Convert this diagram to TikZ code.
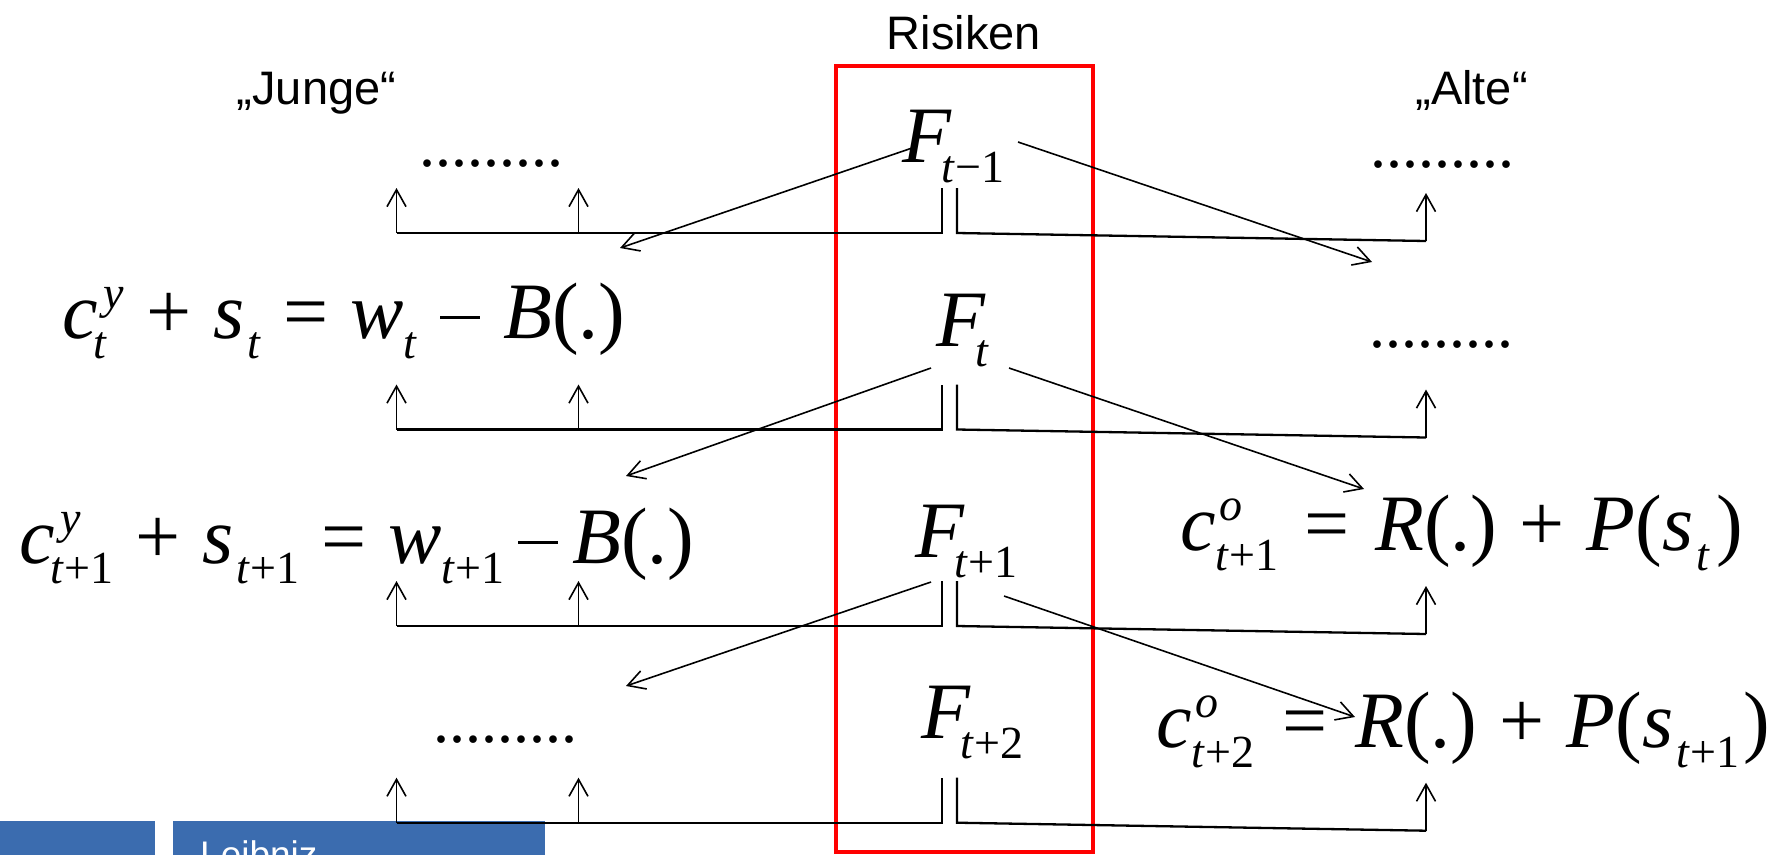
\documentclass[tikz,border=0pt]{standalone}
\usepackage{fontspec}
\setmainfont{Liberation Serif}
\newfontfamily\sansf{Liberation Sans}
\usetikzlibrary{arrows.meta}
\newcommand\BG{\fontsize{80}{80}\selectfont}
\newcommand\SM{\fontsize{46}{46}\selectfont}
\newcommand\Sb[2][0pt]{\kern#1\raisebox{-20pt}{\SM #2}}
\newcommand\SpSb[4][0pt]{\kern#1\ooalign{\kern#2\raisebox{30pt}{\SM\textit{#3}}\cr\raisebox{-20pt}{\SM #4}}}
\newcommand\Op[2][21pt]{\hspace{#1}#2\hspace{#1}}
\newcommand\Mn{\kern3pt\raisebox{18.8pt}{\rule{40pt}{3.2pt}}\kern3pt}
\newcommand\mi[1]{\textit{#1}}
\definecolor{luhblue}{RGB}{59,108,175}
\begin{document}
\begin{tikzpicture}[x=1pt,y=-1pt,
  lbl/.style={font=\sansf\fontsize{47}{47}\selectfont, inner sep=0pt, anchor=base},
  eqn/.style={font=\BG, inner sep=0pt, anchor=base west},
  dotrow/.style={font=\fontsize{64}{64}\selectfont, inner sep=0pt, anchor=base west},
  brk/.style={line width=2.3pt},
  uparr/.style={line width=1.6pt, -{Straight Barb[length=17pt,width=19pt]}},
  diag/.style={line width=1.6pt, -{Straight Barb[length=17pt,width=19pt]}}]
\useasboundingbox (0,0) rectangle (1776,854);
\fill[white] (0,0) rectangle (1776,854);
% logo band
\begin{scope}
\clip (0,0) rectangle (1776,854);
\fill[luhblue] (0,821) rectangle (155,860);
\fill[luhblue] (173,821) rectangle (545,860);
\node[font=\sansf\fontsize{37}{37}\selectfont, text=white, inner sep=0pt, anchor=base west] (leib) at (200,867) {Leibniz};
\end{scope}
% headings
\node[lbl] (ris) at (964,49) {Risiken};
\node[lbl] (jung) at (316.5,104) {„Junge“};
\node[lbl] (alt) at (1471.5,104) {„Alte“};
\draw[red, line width=4pt] (836,66) rectangle (1093,852);
% risk nodes
\node[eqn] (F0) at (902,162) {\mi{F}\Sb[-10pt]{\mi{t}−1}};
\node[eqn] (F1) at (936,346) {\mi{F}\Sb[-10pt]{\mi{t}}};
\node[eqn] (F2) at (915,557) {\mi{F}\Sb[-10pt]{\mi{t}+1}};
\node[eqn] (F3) at (921,738) {\mi{F}\Sb[-10pt]{\mi{t}+2}};
% equations
\node[eqn] (eqL1) at (62,338) {\mi{c}\SpSb[-4pt]{10pt}{y}{\mi{t}}\Op[22pt]{+}\mi{s}\Sb[3pt]{\mi{t}}\Op[22pt]{=}\mi{w}\Sb{\mi{t}}\Op[20pt]{\Mn}\mi{B}(.)};
\node[eqn] (eqL2) at (19,563) {\mi{c}\SpSb[-4pt]{10pt}{y}{\mi{t}+1}\Op[22pt]{+}\mi{s}\Sb[3pt]{\mi{t}+1}\Op[22pt]{=}\mi{w}\Sb{\mi{t}+1}\Op[11pt]{\Mn}\mi{B}(.)};
\node[eqn] (eqR2) at (1180,550) {\mi{c}\SpSb{4pt}{o}{\mi{t}+1}\Op[26pt]{=}\mi{R}(.)\Op[22pt]{+}\mi{P}(\mi{s}\Sb[3pt]{\mi{t}}\hspace{6pt})};
\node[eqn] (eqR3) at (1156,747) {\mi{c}\SpSb{4pt}{o}{\mi{t}+2}\Op[28pt]{=}\mi{R}(.)\Op[22pt]{+}\mi{P}(\mi{s}\Sb[3pt]{\mi{t}+1}\hspace{4pt})};
% dots
\node[dotrow] (d0L) at (419,166) {.........};
\node[dotrow] (d0R) at (1370,167) {.........};
\node[dotrow] (d1R) at (1369,347) {.........};
\node[dotrow] (d3L) at (433,742) {.........};
% brackets
\foreach \i/\y in {0/233,1/429.5,2/626,3/822.7}{
  \coordinate (A\i) at (396.5,\y);
  \coordinate (At\i) at (396.5,\y-45);
  \coordinate (B\i) at (578.5,\y);
  \coordinate (Bt\i) at (578.5,\y-45);
  \coordinate (C\i) at (942,\y);
  \coordinate (Ct\i) at (942,\y-45);
  \coordinate (D\i) at (957,\y);
  \coordinate (Dt\i) at (957,\y-45);
  \coordinate (E\i) at (1426,\y+8);
  \coordinate (Et\i) at (1426,\y-40);
  \draw[brk] (A\i) -- (C\i) -- (Ct\i);
  \draw[brk] (Dt\i) -- (D\i) -- (E\i);
  \draw[uparr] (A\i) -- (At\i);
  \draw[uparr] (B\i) -- (Bt\i);
  \draw[uparr] (E\i) -- (Et\i);
}
% diagonal arrows
\coordinate (p0s) at (915,147); \coordinate (p0e) at (620,248);
\coordinate (q0s) at (1018,142); \coordinate (q0e) at (1372,262);
\coordinate (p1s) at (931,368); \coordinate (p1e) at (626,476);
\coordinate (q1s) at (1009,368); \coordinate (q1e) at (1364,489);
\coordinate (p2s) at (931,582); \coordinate (p2e) at (626,686);
\coordinate (q2s) at (1004,596); \coordinate (q2e) at (1355,717);
\foreach \k in {0,1,2}{
  \draw[diag] (p\k s) -- (p\k e);
  \draw[diag] (q\k s) -- (q\k e);
}
\end{tikzpicture}
\end{document}
